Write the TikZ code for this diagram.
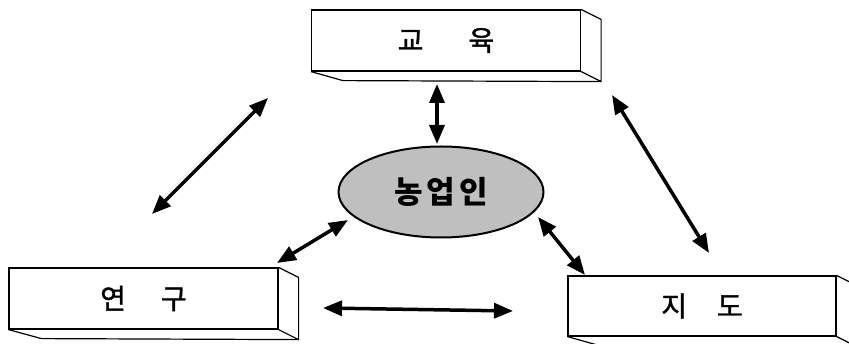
\documentclass[tikz,border=0pt]{standalone}
\usepackage{fontspec}
\setmainfont{Noto Sans CJK KR}
\newfontfamily\slabfont[FakeBold=1.2]{Noto Sans CJK KR}
\usetikzlibrary{arrows.meta,shapes.geometric}
\begin{document}
\begin{tikzpicture}[x=1pt,y=-1pt,
  slab/.style={draw, line width=1.2pt, fill=white, minimum width=269pt,
    minimum height=61pt, inner sep=0pt, font=\slabfont\fontsize{28}{28}\selectfont},
  hub/.style={ellipse, draw, line width=2pt, fill=black!25, minimum width=205pt,
    minimum height=91pt, inner sep=0pt, font=\bfseries\fontsize{31}{31}\selectfont},
  link/.style={line width=3.5pt,
    {Triangle[length=19pt,width=15pt]}-{Triangle[length=19pt,width=15pt]}},
  edge3d/.style={line width=1.2pt, line join=round}]
\clip (0,0) rectangle (849,344);
\fill[white] (0,0) rectangle (849,344);

% boxes
\node[slab] (edu) at (446,40.5) {교\hspace{45pt}육};
\node[slab] (res) at (143.5,298.5) {연\hspace{35pt}구};
\node[slab, minimum width=268pt, minimum height=60pt] (gui) at (702,306) {지\hspace{30pt}도};

\foreach \b/\d in {edu/32, res/33, gui/32}{
  \draw[edge3d] (\b.north east) -- ++(20,10) -- ([shift={(20,10)}]\b.south east) -- (\b.south east);
  \draw[edge3d] (\b.south west) -- ++(\d,9) -- ([shift={(20,10)}]\b.south east);
}

% hub
\node[hub] (farm) at (441,192) {농\hspace{4pt}업\hspace{4pt}인};

% arrow end points
\coordinate (a1s) at (152,214); \coordinate (a1e) at (268,98);
\coordinate (a2s) at (612,95);  \coordinate (a2e) at (709,253);
\coordinate (a3s) at (437,84);  \coordinate (a3e) at (437,144);
\coordinate (a4s) at (348,220); \coordinate (a4e) at (277,263);
\coordinate (a5s) at (538,217); \coordinate (a5e) at (585,275);
\coordinate (a6s) at (323,308); \coordinate (a6e) at (513,311);

\draw[link] (a1s) -- (a1e);
\draw[link] (a2s) -- (a2e);
\draw[link] (a3s) -- (a3e);
\draw[link] (a4s) -- (a4e);
\draw[link] (a5s) -- (a5e);
\draw[link] (a6s) -- (a6e);
\end{tikzpicture}
\end{document}
